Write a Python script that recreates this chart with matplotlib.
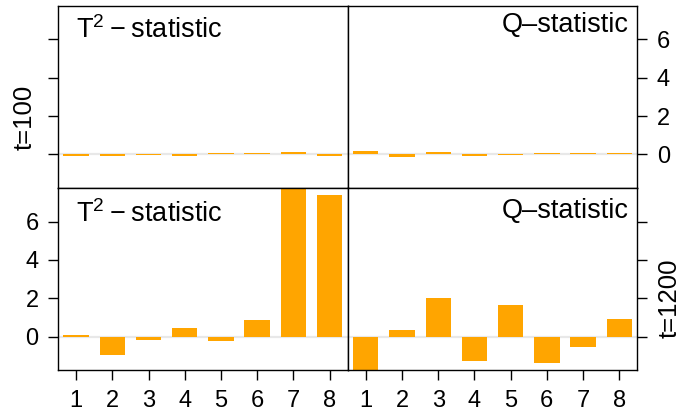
import numpy as np
import matplotlib.pyplot as plt

plt.rcParams['font.family'] = ['Liberation Sans', 'DejaVu Sans']
plt.rcParams['mathtext.fontset'] = 'custom'
plt.rcParams['mathtext.rm'] = 'Liberation Sans'
plt.rcParams['mathtext.it'] = 'Liberation Sans'

# variable index and the two contribution statistics at two time points
var_idx = [1, 2, 3, 4, 5, 6, 7, 8]
t2_t100 = [-0.10, -0.10, -0.05, -0.10, 0.05, 0.05, 0.10, -0.10]
q_t100 = [0.16, -0.16, 0.10, -0.10, -0.05, 0.05, 0.05, 0.05]
t2_t1200 = [0.10, -0.97, -0.16, 0.43, -0.21, 0.89, 7.80, 7.41]
q_t1200 = [-1.75, 0.37, 2.03, -1.25, 1.67, -1.39, -0.56, 0.94]
y_ticks = [0, 2, 4, 6]
row_labels = ["t=100", "t=1200"]

bar_col = "#FFA500"
ylim = (-1.75, 7.75)

fig = plt.figure(figsize=(6.94, 4.15), dpi=100)

x0, xm, x1 = 58 / 694, 347.7 / 694, 637.7 / 694
y_top, y_mid, y_bot = 1 - 5.7 / 415, 1 - 188 / 415, 1 - 370.3 / 415
w = xm - x0
h_top = y_top - y_mid
h_bot = y_mid - y_bot

ax_tl = fig.add_axes([x0, y_mid, w, h_top])
ax_tr = fig.add_axes([xm, y_mid, w, h_top])
ax_bl = fig.add_axes([x0, y_bot, w, h_bot])
ax_br = fig.add_axes([xm, y_bot, w, h_bot])

panels = [(ax_tl, t2_t100), (ax_tr, q_t100), (ax_bl, t2_t1200), (ax_br, q_t1200)]

for ax, vals in panels:
    ax.axhline(0, color="#e8e8e8", lw=1.6, zorder=1)
    ax.bar(var_idx, vals, width=0.7, color=bar_col, zorder=2)
    ax.set_xlim(0.5, 8.5)
    ax.set_ylim(*ylim)
    for sp in ax.spines.values():
        sp.set_linewidth(1.0)
    ax.tick_params(length=7.5, width=1.0, labelsize=17, pad=6.5)
    ax.set_yticks(y_ticks)

# x ticks only along the bottom row
for ax in (ax_tl, ax_tr):
    ax.set_xticks([])
for ax in (ax_bl, ax_br):
    ax.set_xticks(var_idx)
    ax.tick_params(axis='x', pad=7)

# y axis on the left for left panels, on the right for right panels
ax_tl.tick_params(axis='y', labelleft=False)
for ax in (ax_tr, ax_br):
    ax.yaxis.tick_right()
ax_br.tick_params(axis='y', labelright=False)

# panel titles
for ax, yb in ((ax_tl, 0.824), (ax_bl, 0.811)):
    ax.text(0.062, yb, "T$^2$\u2009\u2212\u2009statistic", transform=ax.transAxes,
            fontsize=19.5, ha='left', va='baseline')
for ax, yb in ((ax_tr, 0.857), (ax_br, 0.838)):
    ax.text(0.970, yb, "Q\u2013statistic", transform=ax.transAxes,
            fontsize=19.5, ha='right', va='baseline')

# row labels
fig.text(25 / 694, 1 - 117 / 415, row_labels[0], rotation=90, fontsize=18.5,
         ha='center', va='center')
fig.text(670 / 694, 1 - 298 / 415, row_labels[1], rotation=90, fontsize=18.5,
         ha='center', va='center')

fig.savefig("out.png", dpi=100)
